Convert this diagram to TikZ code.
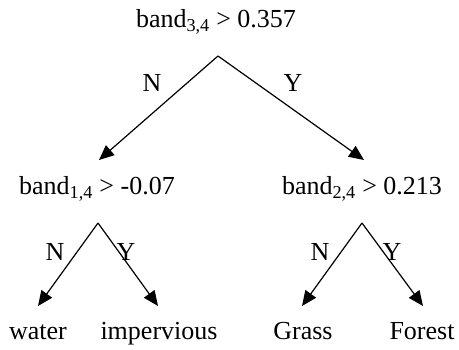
\documentclass[tikz,border=0pt]{standalone}
\usepackage{fontspec}
\setmainfont{Liberation Serif}
\usetikzlibrary{arrows.meta}
\tikzset{
  lbl/.style={font=\fontsize{26}{30}\selectfont, inner sep=0pt, anchor=base},
  yn/.style={font=\fontsize{26}{30}\selectfont, inner sep=0pt},
  edge/.style={line width=1.2pt, -{Triangle[length=15pt,width=13pt]}},
}
\begin{document}
\begin{tikzpicture}[x=1pt,y=-1pt]
\useasboundingbox (0,0) rectangle (459,350);
% root
\node[lbl] (root) at (216,28) {band\textsubscript{3,4} > 0.357};
\coordinate (a0) at (218,56);
\coordinate (t1) at (99,160);
\coordinate (t2) at (364,160);
\draw[edge] (a0) -- (t1);
\draw[edge] (a0) -- (t2);
\node[yn] (n0) at (152,83) {N};
\node[yn] (y0) at (293,83) {Y};
% second level
\node[lbl] (l) at (97,195) {band\textsubscript{1,4} > -0.07};
\node[lbl] (r) at (362,195) {band\textsubscript{2,4} > 0.213};
\coordinate (a1) at (98,223);
\coordinate (a2) at (362,223);
\coordinate (t11) at (38,306);
\coordinate (t12) at (158,306);
\coordinate (t21) at (302,306);
\coordinate (t22) at (423,306);
\draw[edge] (a1) -- (t11);
\draw[edge] (a1) -- (t12);
\draw[edge] (a2) -- (t21);
\draw[edge] (a2) -- (t22);
\node[yn] (n1) at (55,252) {N};
\node[yn] (y1) at (126,252) {Y};
\node[yn] (n2) at (320,252) {N};
\node[yn] (y2) at (392,252) {Y};
% leaves
\node[lbl] (w) at (38,340) {water};
\node[lbl] (im) at (159,340) {impervious};
\node[lbl] (g) at (303,340) {Grass};
\node[lbl] (f) at (422,340) {Forest};
\end{tikzpicture}
\end{document}
